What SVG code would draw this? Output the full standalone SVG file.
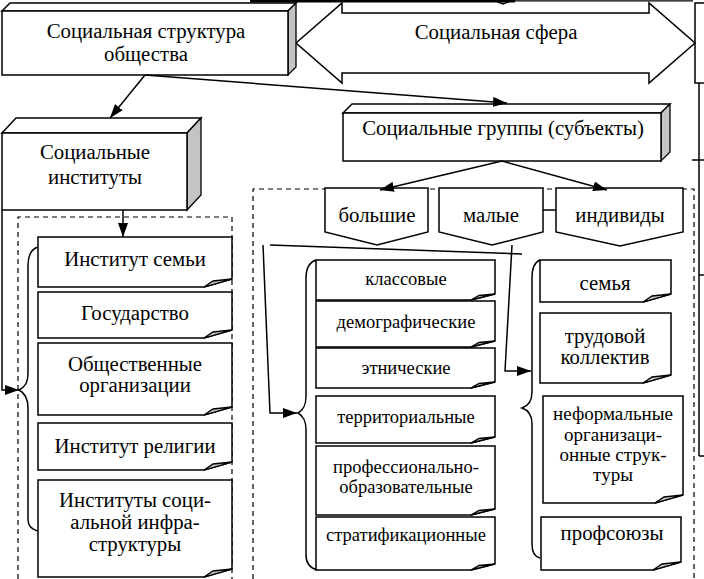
<svg xmlns="http://www.w3.org/2000/svg" width="704" height="579" viewBox="0 0 704 579">
<style>
.t{font-family:"Liberation Serif","Times New Roman","DejaVu Serif",serif;font-size:20.8px;fill:#000;text-anchor:middle}
.s{font-size:18.5px}
.m{font-size:19px}
.b{fill:#fff;stroke:#000;stroke-width:1.5;stroke-linejoin:miter}
.g{fill:#c4c4c4;stroke:#000;stroke-width:1.3}
.l{fill:none;stroke:#000;stroke-width:1.5}
.d{fill:none;stroke:#000;stroke-width:1.2;stroke-dasharray:5,4}
</style>
<defs>
<marker id="ah" markerUnits="userSpaceOnUse" markerWidth="14" markerHeight="10" refX="14" refY="5" orient="auto">
<path d="M0,0 L14,5 L0,10 Z" fill="#000"/>
</marker>
</defs>
<rect width="704" height="579" fill="#fff"/>

<g id="top-edge">
<line x1="250" y1="1" x2="515" y2="1" stroke="#000" stroke-width="3"/>
<line x1="515" y1="0.8" x2="693" y2="0.8" stroke="#000" stroke-width="1.2"/>
<path d="M493,0 L503,4 L513,0" class="l" stroke-width="1.2"/>
</g>

<g id="right-edge">
<rect x="695" y="3" width="20" height="80" class="b"/>
<line x1="699" y1="83" x2="699" y2="456" class="l"/>
<line x1="692" y1="160" x2="704" y2="160" class="l"/>
<line x1="699" y1="275" x2="704" y2="275" class="l"/>
<line x1="699" y1="456" x2="704" y2="456" class="l"/>
</g>

<g id="containers">
<path d="M18,579 V217 H232 V579" class="d"/>
<path d="M253,579 V189 H694 V579" class="d"/>
</g>

<g id="social-sphere">
<path d="M296,43 L342,3 V13 H649 V3 L695,43 L649,83 V73 H342 V83 Z" class="b"/>
<text x="496" y="39" class="t">Социальная сфера</text>
</g>

<g id="structure">
<path d="M2,11 L10,3 H296 L288,11 Z" class="b"/>
<path d="M288,11 L296,3 V67 L288,75 Z" class="g"/>
<rect x="2" y="11" width="286" height="64" class="b"/>
<text x="146" y="38" class="t">Социальная структура</text>
<text x="146" y="61" class="t">общества</text>
</g>

<g id="institutes">
<path d="M2,133 L16,118 H201 L187,133 Z" class="b"/>
<path d="M187,133 L201,118 V195 L187,210 Z" class="g"/>
<rect x="2" y="133" width="185" height="77" class="b"/>
<text x="95" y="159" class="t">Социальные</text>
<text x="95" y="184" class="t">институты</text>
</g>

<g id="groups">
<path d="M343,113 L352,104 H670 L661,113 Z" class="b"/>
<path d="M661,113 L670,104 V152 L661,161 Z" class="g"/>
<rect x="343" y="113" width="318" height="48" class="b"/>
<text x="503" y="135" class="t">Социальные группы (субъекты)</text>
</g>

<g id="big">
<path d="M325,188 H428 V232 L377,245 L325,232 Z" class="b"/>
<text x="377" y="222" class="t">большие</text>
</g>
<g id="small">
<path d="M439,188 H543 V232 L492,245 L439,232 Z" class="b"/>
<text x="491" y="222" class="t">малые</text>
</g>
<g id="individuals">
<path d="M556,188 H683 V232 L620,246 L556,232 Z" class="b"/>
<text x="620" y="222" class="t">индивиды</text>
</g>

<g id="inst-family">
<path d="M38,237 H232 V279 L204,287 H38 Z" class="b"/>
<path d="M204,287 L232,279 L213,281 Z" class="g"/>
<text x="135" y="266" class="t">Институт семьи</text>
</g>
<g id="state">
<path d="M38,292 H232 V330 L204,338 H38 Z" class="b"/>
<path d="M204,338 L232,330 L213,332 Z" class="g"/>
<text x="135" y="320" class="t">Государство</text>
</g>
<g id="public-orgs">
<path d="M38,343 H232 V407 L204,415 H38 Z" class="b"/>
<path d="M204,415 L232,407 L213,409 Z" class="g"/>
<text x="135" y="371" class="t">Общественные</text>
<text x="135" y="392" class="t">организации</text>
</g>
<g id="religion">
<path d="M38,423 H232 V462 L204,470 H38 Z" class="b"/>
<path d="M204,470 L232,462 L213,464 Z" class="g"/>
<text x="135" y="453" class="t">Институт религии</text>
</g>
<g id="infra">
<path d="M38,480 H232 V569 L204,577 H38 Z" class="b"/>
<path d="M204,577 L232,569 L213,571 Z" class="g"/>
<text x="135" y="507" class="t">Институты соци-</text>
<text x="135" y="529" class="t">альной инфра-</text>
<text x="135" y="551" class="t">структуры</text>
</g>

<g id="class">
<path d="M316,260 H495 V294 L471,300 H316 Z" class="b"/>
<path d="M471,300 L495,294 L479,295.5 Z" class="g"/>
<text x="406" y="285" class="t s">классовые</text>
</g>
<g id="demo">
<path d="M316,301 H495 V341 L471,347 H316 Z" class="b"/>
<path d="M471,347 L495,341 L479,342.5 Z" class="g"/>
<text x="406" y="328" class="t s">демографические</text>
</g>
<g id="ethnic">
<path d="M316,348 H495 V382 L471,388 H316 Z" class="b"/>
<path d="M471,388 L495,382 L479,383.5 Z" class="g"/>
<text x="406" y="374" class="t s">этнические</text>
</g>
<g id="territorial">
<path d="M316,396 H495 V437 L471,443 H316 Z" class="b"/>
<path d="M471,443 L495,437 L479,438.5 Z" class="g"/>
<text x="406" y="423" class="t s">территориальные</text>
</g>
<g id="prof-edu">
<path d="M316,446 H495 V509 L471,515 H316 Z" class="b"/>
<path d="M471,515 L495,509 L479,510.5 Z" class="g"/>
<text x="406" y="473" class="t s">профессионально-</text>
<text x="406" y="493" class="t s">образовательные</text>
</g>
<g id="strat">
<path d="M316,517 H495 V564 L471,570 H316 Z" class="b"/>
<path d="M471,570 L495,564 L479,565.5 Z" class="g"/>
<text x="406" y="541" class="t s">стратификационные</text>
</g>

<g id="family">
<path d="M540,260 H671 V294 L643,302 H540 Z" class="b"/>
<path d="M643,302 L671,294 L652,296 Z" class="g"/>
<text x="605" y="290" class="t">семья</text>
</g>
<g id="work">
<path d="M540,313 H671 V375 L643,383 H540 Z" class="b"/>
<path d="M643,383 L671,375 L652,377 Z" class="g"/>
<text x="605" y="343" class="t">трудовой</text>
<text x="605" y="364" class="t">коллектив</text>
</g>
<g id="informal">
<path d="M543,396 H683 V495 L655,503 H543 Z" class="b"/>
<path d="M655,503 L683,495 L664,497 Z" class="g"/>
<text x="613" y="420" class="t m">неформальные</text>
<text x="613" y="441" class="t m">организаци-</text>
<text x="613" y="461" class="t m">онные струк-</text>
<text x="613" y="481" class="t m">туры</text>
</g>
<g id="unions">
<path d="M541,517 H681 V562 L653,570 H541 Z" class="b"/>
<path d="M653,570 L681,562 L662,564 Z" class="g"/>
<text x="612" y="540" class="t">профсоюзы</text>
</g>

<g id="braces">
<path d="M38,247 C31,249 28,256 28,266 V372 C28,383 25,387 19,390 C25,393 28,398 28,408 V518 C28,526 31,529 38,531" class="l"/>
<path d="M316,260 C310,262 306,268 306,278 V396 C306,406 303,410 298,413 C303,416 306,420 306,430 V555 C306,564 310,568 317,570" class="l"/>
<path d="M540,260 C535,262 532,268 532,278 V392 C532,402 528,406 522,408 C528,410 532,414 532,424 V544 C532,553 535,557 540,558" class="l"/>
</g>

<g id="connectors">
<line x1="145" y1="75" x2="110" y2="118" class="l" marker-end="url(#ah)"/>
<line x1="145" y1="75" x2="507" y2="103" class="l" marker-end="url(#ah)"/>
<line x1="502" y1="161" x2="380" y2="190" class="l" marker-end="url(#ah)"/>
<line x1="502" y1="161" x2="607" y2="190" class="l" marker-end="url(#ah)"/>
<line x1="123" y1="210" x2="123" y2="237" class="l" marker-end="url(#ah)"/>
<polyline points="2,210 2,390 19,390" class="l" marker-end="url(#ah)"/>
<polyline points="263,245 270,413 297,413" class="l" marker-end="url(#ah)"/>
<line x1="270" y1="245" x2="522" y2="254" class="l"/>
<polyline points="512,245 505,371 531,371" class="l" marker-end="url(#ah)"/>
<line x1="543" y1="210" x2="556" y2="210" class="l"/>
</g>
</svg>
